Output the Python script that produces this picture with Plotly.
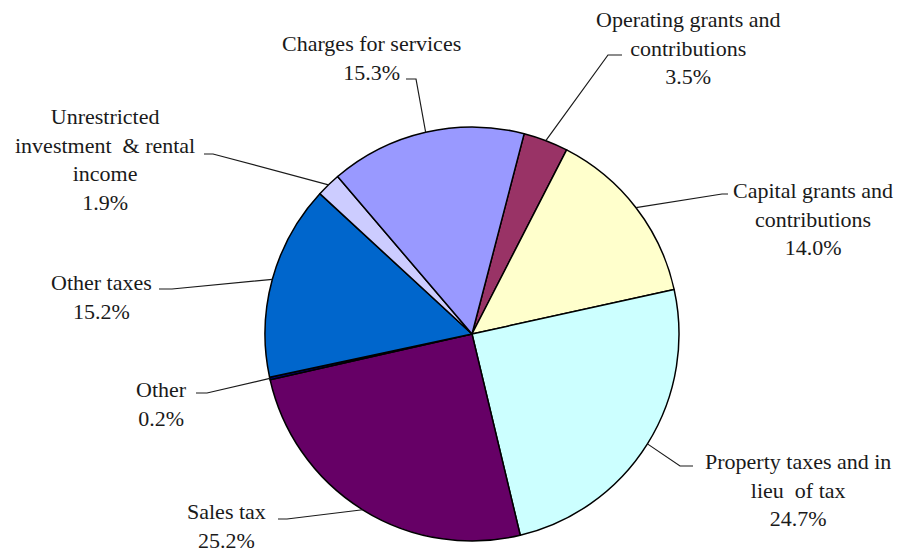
import math
import plotly.graph_objects as go

# Revenue sources, in clockwise order starting just right of 12 o'clock
categories = [
    "Operating grants and contributions",
    "Capital grants and contributions",
    "Property taxes and in lieu of tax",
    "Sales tax",
    "Other",
    "Other taxes",
    "Unrestricted investment & rental income",
    "Charges for services",
]
shares = [3.5, 14.0, 24.7, 25.2, 0.2, 15.2, 1.9, 15.3]
label_text = [
    "Operating grants and<br>contributions",
    "Capital grants and<br>contributions",
    "Property taxes and in<br>lieu  of tax",
    "Sales tax",
    "Other",
    "Other taxes",
    "Unrestricted<br>investment  & rental<br>income",
    "Charges for services",
]
colors = ["#993366", "#FFFFCC", "#CCFFFF", "#660066",
          "#000080", "#0066CC", "#CCCCFF", "#9999FF"]

W, H = 905, 556
CX, CY, R = 472, 334, 207          # pie centre / radius in pixels
ROTATION = 14.6                    # start angle of first slice (deg, clockwise from top)
FONT = "Liberation Serif"

# label block centres and leader-line elbows (pixels)
label_pos = [(688, 48), (813, 219), (798, 490), (226, 526),
             (161, 404), (101, 297), (105, 159), (371, 58)]
elbows = [[(608, 55), (622, 55)],
          [(722, 194), (728, 194)],
          [(680, 466), (693, 466)],
          [(287, 519), (278, 519)],
          [(207, 393), (196, 393)],
          [(172, 289), (159, 289)],
          [(213, 154), (204, 154)],
          [(416, 79), (406, 79)]]


def px(x, y):
    return x / W, 1 - y / H


fig = go.Figure(go.Pie(
    labels=categories,
    values=shares,
    sort=False,
    direction="clockwise",
    rotation=ROTATION,
    marker=dict(colors=colors, line=dict(color="#000000", width=1.5)),
    textinfo="none",
    hoverinfo="label+percent",
    domain=dict(x=[(CX - R) / W, (CX + R) / W],
                y=[(H - CY - R) / H, (H - CY + R) / H]),
    showlegend=False,
))

total = sum(shares)
start = ROTATION
shapes, annotations = [], []
for i, v in enumerate(shares):
    span = v / total * 360.0
    mid = math.radians(start + span / 2)
    start += span
    ex, ey = CX + R * math.sin(mid), CY - R * math.cos(mid)
    pts = [(ex, ey)] + elbows[i]
    path = "M " + " L ".join("{:.5f},{:.5f}".format(*px(x, y)) for x, y in pts)
    shapes.append(dict(type="path", xref="paper", yref="paper", path=path,
                       line=dict(color="#1a1a1a", width=1.2)))
    lx, ly = px(*label_pos[i])
    annotations.append(dict(
        x=lx, y=ly, xref="paper", yref="paper", xanchor="center", yanchor="middle",
        text="{}<br>{:.1f}%".format(label_text[i], v), showarrow=False, align="center",
        font=dict(family=FONT, size=22, color="#1a1a1a"),
    ))

fig.update_layout(
    width=W, height=H,
    margin=dict(l=0, r=0, t=0, b=0),
    paper_bgcolor="#ffffff",
    plot_bgcolor="#ffffff",
    font=dict(family=FONT),
    shapes=shapes,
    annotations=annotations,
)

fig.write_html("out.html")
